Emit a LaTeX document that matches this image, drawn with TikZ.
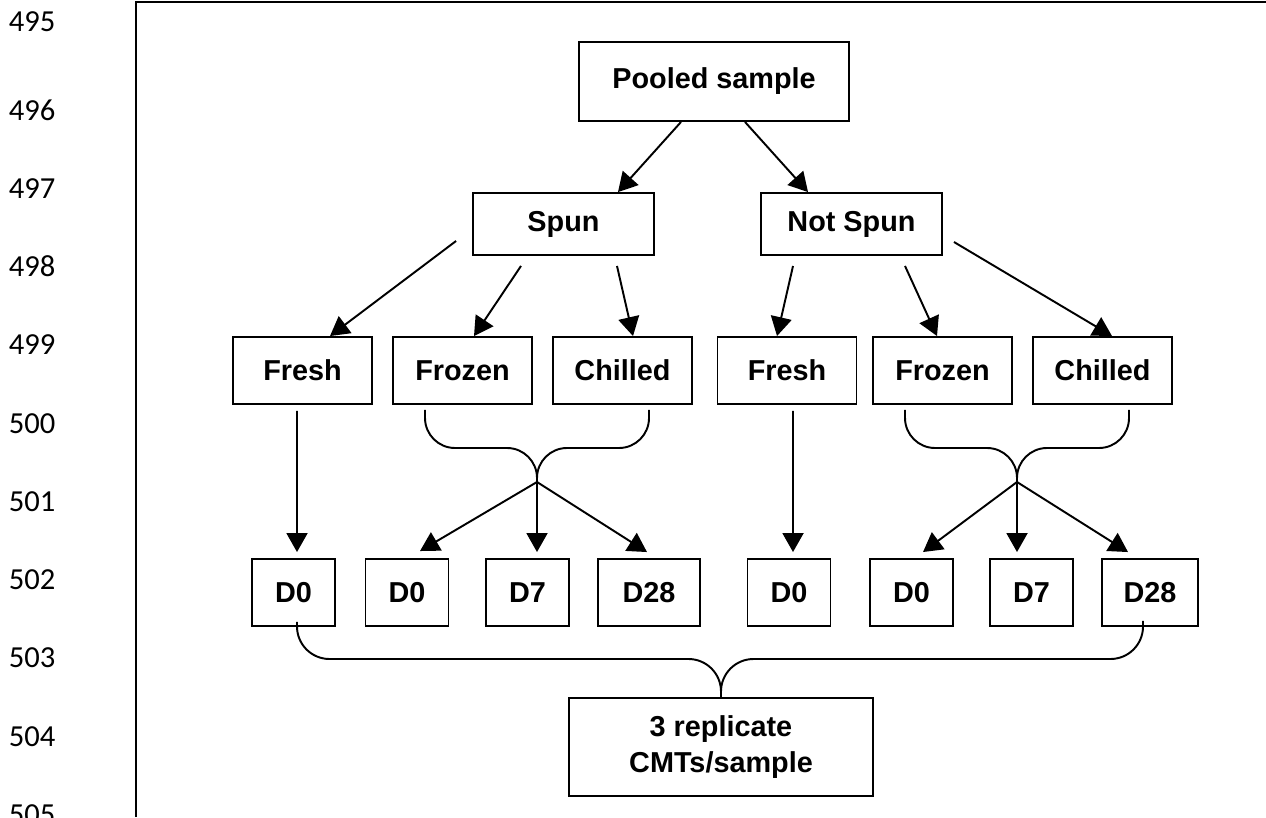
\documentclass[tikz,border=0pt]{standalone}
\usepackage{fontspec}
\setmainfont{Liberation Sans}
\newfontfamily\linefont{Carlito}
\usetikzlibrary{arrows.meta}

\begin{document}
\begin{tikzpicture}
  [x=0.02cm,y=-0.02cm,line width=1.1pt,
   box/.style={draw,rectangle,inner sep=0pt,font=\fontsize{16.4}{21}\selectfont\bfseries,align=center},
   smallbox/.style={box,minimum width=2.78cm,minimum height=1.34cm},
   daybox/.style={box,minimum width=1.66cm,minimum height=1.34cm},
   arr/.style={-{Triangle[length=0.38cm,width=0.42cm]}},
   brace/.style={rounded corners=0.6cm},
   lnum/.style={anchor=west,inner sep=0pt,font=\linefont\fontsize{17.4}{20}\selectfont}]
  \useasboundingbox (0,0) rectangle (1266,817);
  % line numbers
  \node[lnum] (l495) at (8,22) {495};
  \foreach \n [count=\i from 0] in {496,...,505}
    \node[lnum] (l\n) at (8,110+78.3*\i) {\n};
  % frame
  \draw (136,817) -- (136,2) -- (1266,2);
  % boxes
  \node[box,minimum width=5.4cm,minimum height=1.58cm] (pool) at (714,81.5) {Pooled sample};
  \node[box,minimum width=3.62cm,minimum height=1.24cm] (spun) at (563.5,224) {Spun};
  \node[box,minimum width=3.62cm,minimum height=1.24cm] (notspun) at (851.5,224) {Not Spun};
  \node[smallbox] (fresha) at (302.5,370.5) {Fresh};
  \node[smallbox] (frozena) at (462.5,370.5) {Frozen};
  \node[smallbox] (chilleda) at (622.5,370.5) {Chilled};
  \node[smallbox] (freshb) at (787,370.5) {Fresh};
  \node[smallbox] (frozenb) at (942.5,370.5) {Frozen};
  \node[smallbox] (chilledb) at (1102.5,370.5) {Chilled};
  \node[daybox] (d0a) at (293.5,592.5) {D0};
  \node[daybox] (d0b) at (407,592.5) {D0};
  \node[daybox] (d7a) at (527.5,592.5) {D7};
  \node[daybox,minimum width=2.04cm] (d28a) at (649,592.5) {D28};
  \node[daybox] (d0c) at (789,592.5) {D0};
  \node[daybox] (d0d) at (911.5,592.5) {D0};
  \node[daybox] (d7b) at (1031.5,592.5) {D7};
  \node[daybox,minimum width=1.92cm] (d28b) at (1150,592.5) {D28};
  \node[box,minimum width=6.08cm,minimum height=1.96cm] (cmt) at (721,747) {3 replicate\\CMTs/sample};
  % spun / not spun
  \draw[arr] ([xshift=-0.66cm]pool.south) -- ([xshift=1.09cm]spun.north);
  \draw[arr] ([xshift=0.62cm]pool.south) -- ([xshift=-0.87cm]notspun.north);
  % storage
  \draw[arr] ([xshift=-0.32cm,yshift=-0.34cm]spun.west) -- ([xshift=0.55cm]fresha.north);
  \draw[arr] ([xshift=-0.85cm,yshift=-0.2cm]spun.south) -- ([xshift=0.23cm]frozena.north);
  \draw[arr] ([xshift=1.07cm,yshift=-0.2cm]spun.south) -- ([xshift=0.21cm]chilleda.north);
  \draw[arr] ([xshift=-1.17cm,yshift=-0.2cm]notspun.south) -- ([xshift=-0.2cm]freshb.north);
  \draw[arr] ([xshift=1.07cm,yshift=-0.2cm]notspun.south) -- ([xshift=-0.11cm]frozenb.north);
  \draw[arr] ([xshift=0.22cm,yshift=-0.36cm]notspun.east) -- ([xshift=0.19cm]chilledb.north);
  % fresh to day 0
  \draw[arr] ([xshift=-0.11cm,yshift=-0.12cm]fresha.south) -- ([xshift=0.07cm,yshift=0.12cm]d0a.north);
  \draw[arr] ([xshift=0.12cm,yshift=-0.12cm]freshb.south) -- ([xshift=0.08cm,yshift=0.12cm]d0c.north);
  % frozen and chilled, spun
  \coordinate (ha) at (537,448);
  \coordinate (ma) at (537,482);
  \draw[brace] ([xshift=-0.75cm,yshift=-0.1cm]frozena.south) |- (ha) -- (ma);
  \draw[brace] ([xshift=0.53cm,yshift=-0.1cm]chilleda.south) |- (ha) -- (ma);
  \draw[arr] (ma) -- ([xshift=0.26cm,yshift=0.14cm]d0b.north);
  \draw[arr] (ma) -- ([xshift=0.19cm,yshift=0.12cm]d7a.north);
  \draw[arr] (ma) -- ([xshift=-0.04cm,yshift=0.12cm]d28a.north);
  % frozen and chilled, not spun
  \coordinate (hb) at (1017,448);
  \coordinate (mb) at (1017,482);
  \draw[brace] ([xshift=-0.75cm,yshift=-0.1cm]frozenb.south) |- (hb) -- (mb);
  \draw[brace] ([xshift=0.53cm,yshift=-0.1cm]chilledb.south) |- (hb) -- (mb);
  \draw[arr] (mb) -- ([xshift=0.23cm,yshift=0.12cm]d0d.north);
  \draw[arr] (mb) -- ([xshift=-0.29cm,yshift=0.12cm]d7b.north);
  \draw[arr] (mb) -- ([xshift=-0.44cm,yshift=0.12cm]d28b.north);
  % replicates
  \coordinate (hc) at (721,659);
  \draw[rounded corners=0.65cm] ([xshift=0.07cm,yshift=0.1cm]d0a.south) |- (hc) -- (cmt.north);
  \draw[rounded corners=0.65cm] ([xshift=-0.14cm,yshift=0.12cm]d28b.south) |- (hc) -- (cmt.north);
\end{tikzpicture}
\end{document}
